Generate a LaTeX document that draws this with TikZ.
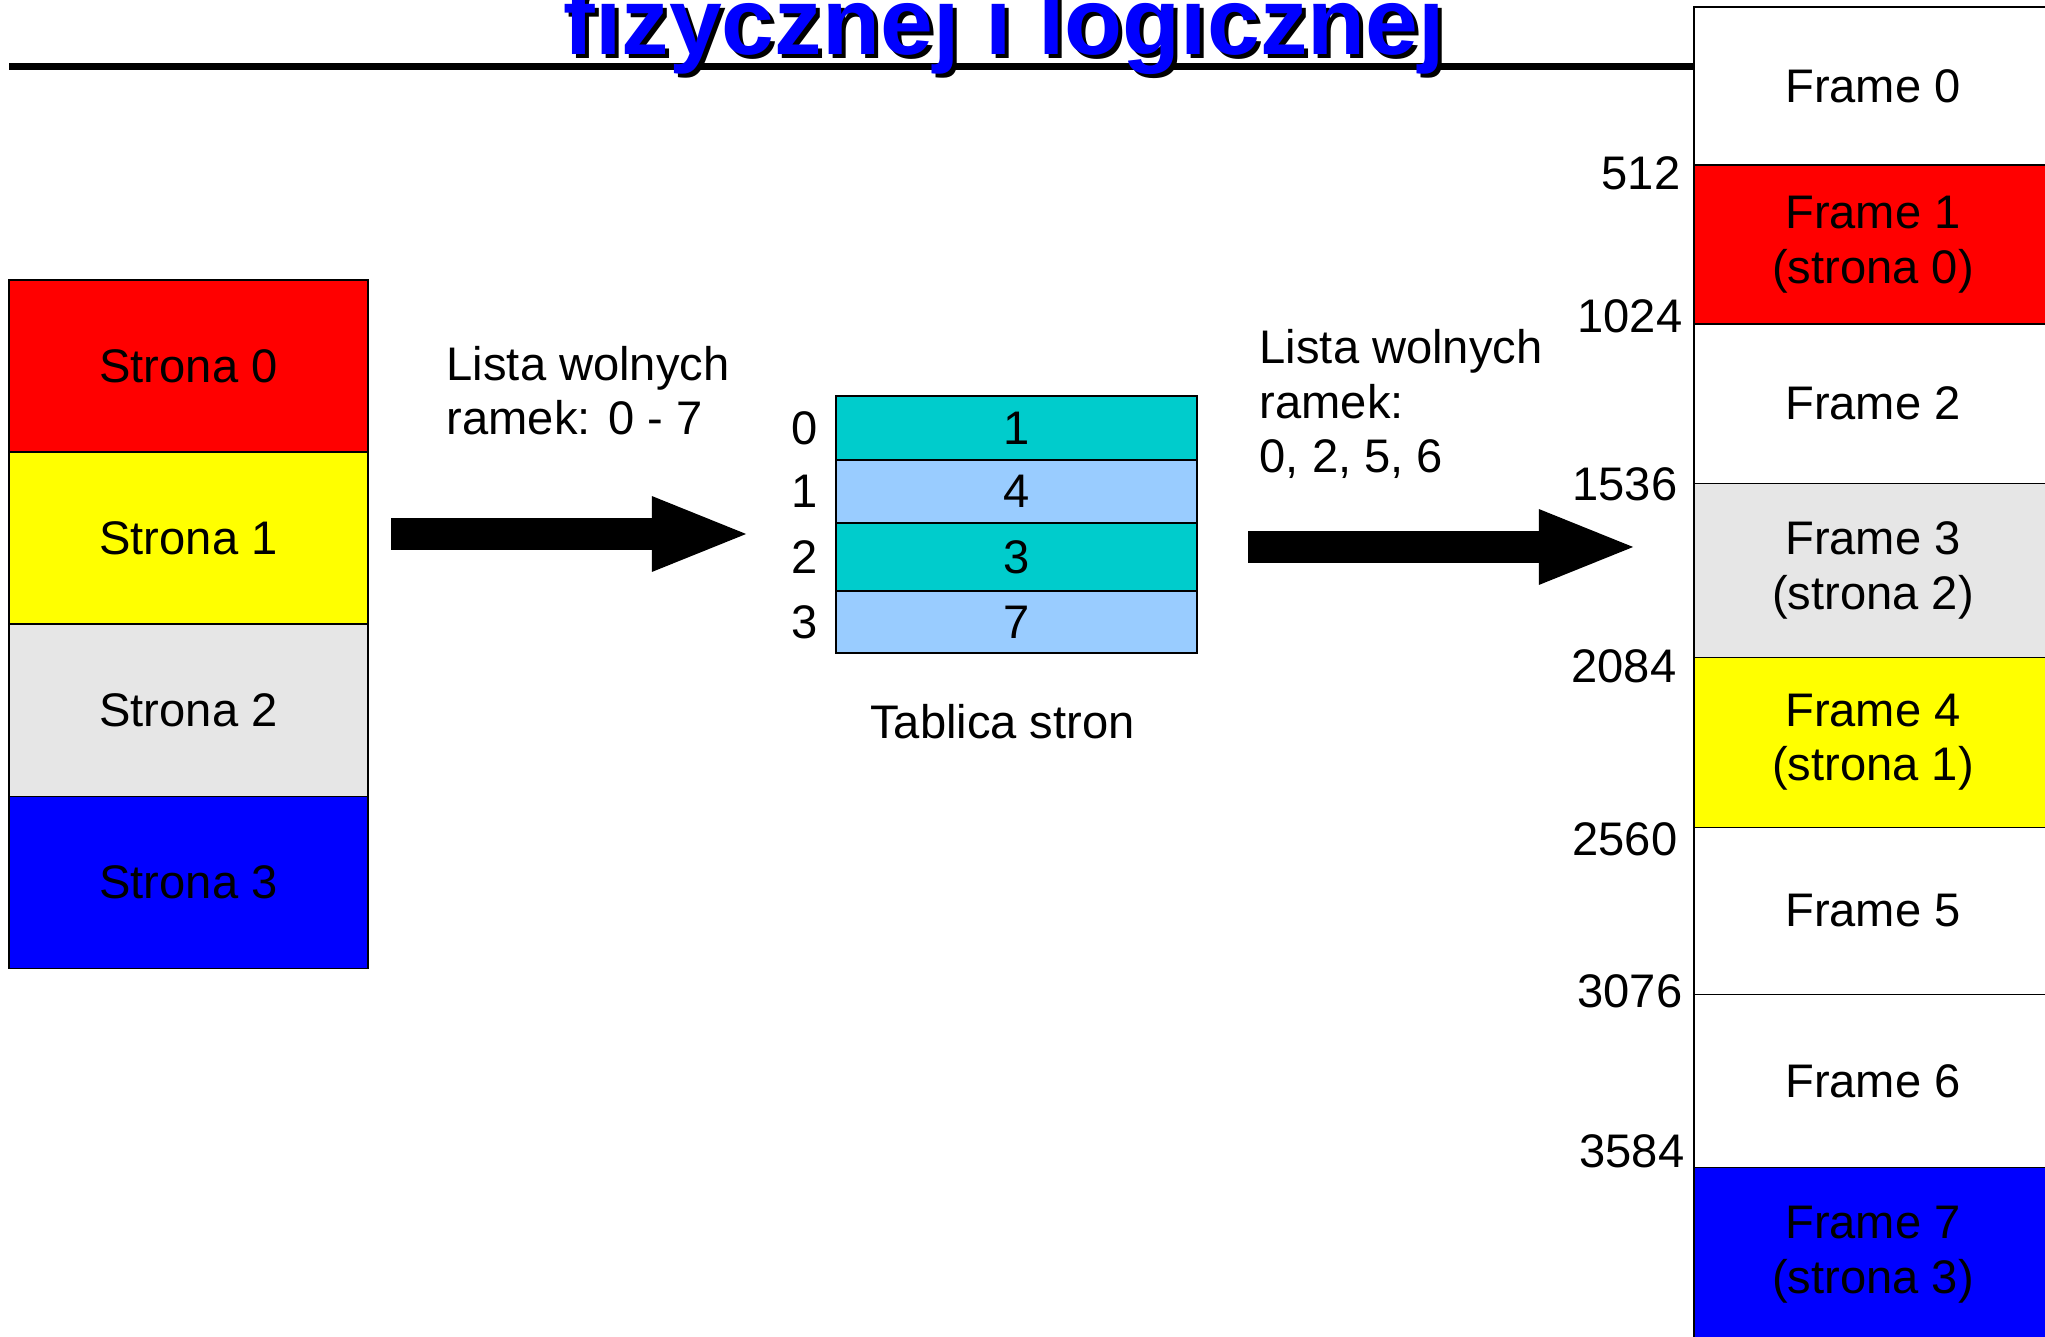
\documentclass[tikz,border=0pt]{standalone}
\usepackage{fontspec}
\setmainfont{Liberation Sans}
\usepackage{tikz}
\usetikzlibrary{arrows.meta,positioning}
\definecolor{pagered}{HTML}{FF0000}
\definecolor{pageyellow}{HTML}{FFFF00}
\definecolor{pagegray}{HTML}{E6E6E6}
\definecolor{pageblue}{HTML}{0000FF}
\definecolor{tableteal}{HTML}{00CCCC}
\definecolor{tablesky}{HTML}{99CCFF}
\definecolor{headblue}{HTML}{0000FF}
\newcommand{\pagelabelfont}{\fontsize{13.4pt}{15.5pt}\selectfont}
\newcommand{\slideheadfont}{\fontsize{27pt}{32pt}\selectfont\bfseries}

\begin{document}
\begin{tikzpicture}[
    x=0.01cm,
    y=-0.01cm,
    cell/.style={draw=black, line width=0.4pt, inner sep=0pt, outer sep=0pt, font=\pagelabelfont, align=center},
    pagecell/.style={cell, minimum width=3.59cm, minimum height=1.72cm},
    rowcell/.style={cell, minimum width=3.61cm},
    framecell/.style={cell, minimum width=3.58cm},
    plain/.style={inner sep=0pt, font=\pagelabelfont},
    blockarrow/.style={line width=0.31cm, -{Triangle[length=1cm, width=0.67cm]}}
  ]
    \useasboundingbox (0,0) rectangle (2045,1337);
    \clip (0,0) rectangle (2045,1337);

    % logical pages
    \node[pagecell, fill=pagered] (strona0) at (188.5,366) {Strona 0};
    \node[pagecell, fill=pageyellow, below=0pt of strona0] (strona1) {Strona 1};
    \node[pagecell, fill=pagegray, below=0pt of strona1] (strona2) {Strona 2};
    \node[pagecell, fill=pageblue, below=0pt of strona2] (strona3) {Strona 3};

    % page table
    \node[rowcell, fill=tableteal, minimum height=0.64cm] (row0) at (1016.5,428) {1};
    \node[rowcell, fill=tablesky, minimum height=0.63cm, below=0pt of row0] (row1) {4};
    \node[rowcell, fill=tableteal, minimum height=0.68cm, below=0pt of row1] (row2) {3};
    \node[rowcell, fill=tablesky, minimum height=0.62cm, below=0pt of row2] (row3) {7};

    \node[plain, left=0.17cm of row0] (idx0) {0};
    \node[plain, left=0.17cm of row1] (idx1) {1};
    \node[plain, left=0.17cm of row2] (idx2) {2};
    \node[plain, left=0.17cm of row3] (idx3) {3};

    \node[plain, below=0.5cm of row3, xshift=-0.14cm] (tablecaption) {Tablica stron};

    % physical frames
    \node[framecell, fill=white, minimum height=1.58cm] (frame0) at (1873,86) {Frame 0};
    \node[framecell, fill=pagered, minimum height=1.59cm, below=0pt of frame0] (frame1) {Frame 1\\(strona 0)};
    \node[framecell, fill=white, minimum height=1.59cm, below=0pt of frame1] (frame2) {Frame 2};
    \node[framecell, fill=pagegray, minimum height=1.74cm, below=0pt of frame2] (frame3) {Frame 3\\(strona 2)};
    \node[framecell, fill=pageyellow, minimum height=1.70cm, below=0pt of frame3] (frame4) {Frame 4\\(strona 1)};
    \node[framecell, fill=white, minimum height=1.67cm, below=0pt of frame4] (frame5) {Frame 5};
    \node[framecell, fill=white, minimum height=1.73cm, below=0pt of frame5] (frame6) {Frame 6};
    \node[framecell, fill=pageblue, minimum height=1.74cm, below=0pt of frame6] (frame7) {Frame 7\\(strona 3)};

    % addresses
    \node[plain, anchor=base east] (addr1) at (1681,190) {512};
    \node[plain, anchor=base east] (addr2) at (1683,333) {1024};
    \node[plain, anchor=base east] (addr3) at (1678,501) {1536};
    \node[plain, anchor=base east] (addr4) at (1677,683) {2084};
    \node[plain, anchor=base east] (addr5) at (1678,856) {2560};
    \node[plain, anchor=base east] (addr6) at (1683,1007) {3076};
    \node[plain, anchor=base east] (addr7) at (1685,1167) {3584};

    % heading
    \coordinate (ruleleft) at (9,67);
    \draw[line width=0.07cm] (ruleleft) -- (ruleleft -| frame0.west);
    \node[anchor=base west, inner sep=0pt, font=\slideheadfont, text=black] (headshadow) at (567,59) {fizycznej i logicznej};
    \node[anchor=base west, inner sep=0pt, font=\slideheadfont, text=headblue] (head) at (563,55) {fizycznej i logicznej};

    % free lists and arrows (base = last line)
    \node[plain, anchor=base west, align=left] (freelist1) at (446,435) {Lista wolnych\\ramek: 0 - 7};
    \node[plain, anchor=base west, align=left] (freelist2) at (1259,473) {Lista wolnych\\ramek:\\0, 2, 5, 6};

    \coordinate (arrow1from) at (391,534);
    \coordinate (arrow1to) at (752,534);
    \coordinate (arrow2from) at (1248,547);
    \coordinate (arrow2to) at (1639,547);
    \draw[blockarrow] (arrow1from) -- (arrow1to);
    \draw[blockarrow] (arrow2from) -- (arrow2to);

  \end{tikzpicture}
\end{document}
